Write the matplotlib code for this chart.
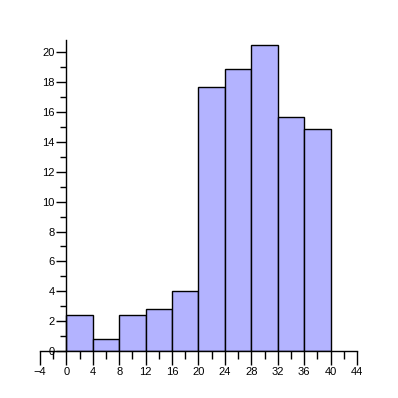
import matplotlib
matplotlib.use("Agg")
import numpy as np
from matplotlib import pyplot as plt
from matplotlib.ticker import MultipleLocator

plt.rcParams['font.family'] = ['Liberation Sans Narrow', 'Liberation Sans', 'DejaVu Sans']

# bin edges and bar heights
bin_left = [0, 4, 8, 12, 16, 20, 24, 28, 32, 36]
bin_width = 4
heights = [2.4, 0.8, 2.4, 2.8, 4.0, 17.7, 18.9, 20.5, 15.7, 14.85]

fig = plt.figure(figsize=(3.98, 3.98), dpi=100)
ax = fig.add_axes([40 / 398, 47 / 398, 317 / 398, 311 / 398])

ax.bar(bin_left, heights, width=bin_width, align="edge",
       color="#b3b3ff", edgecolor="black", linewidth=1.0, zorder=2)

ax.set_xlim(-4, 44)
ax.set_ylim(0, 20.83)

# axes cross at the origin, no box
ax.spines["left"].set_position(("data", 0))
ax.spines["bottom"].set_position(("data", 0))
ax.spines["top"].set_visible(False)
ax.spines["right"].set_visible(False)
for s in ("left", "bottom"):
    ax.spines[s].set_linewidth(1.0)
    ax.spines[s].set_zorder(3)

ax.xaxis.set_major_locator(MultipleLocator(4))
ax.xaxis.set_minor_locator(MultipleLocator(2))
ax.yaxis.set_major_locator(MultipleLocator(2))
ax.yaxis.set_minor_locator(MultipleLocator(1))

ax.tick_params(axis="x", which="major", direction="out", length=10, width=1, labelsize=8, pad=1.5)
ax.tick_params(axis="x", which="minor", direction="out", length=6, width=1)
ax.tick_params(axis="y", which="major", direction="out", length=7, width=1, labelsize=8, pad=1.5)
ax.tick_params(axis="y", which="minor", direction="out", length=4, width=1)

fig.savefig("out.png", dpi=100)
